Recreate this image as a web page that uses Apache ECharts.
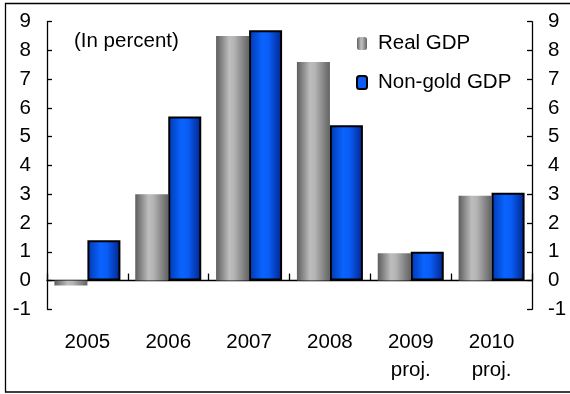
<!DOCTYPE html>
<html>
<head>
<meta charset="utf-8">
<script src="https://cdn.jsdelivr.net/npm/echarts@6/dist/echarts.min.js"></script>
<style>
  html, body { margin: 0; padding: 0; background: #fff; }
  #chart { width: 570px; height: 394px; }
</style>
</head>
<body>
<div id="chart"></div>
<script>
// Growth of real and non-gold GDP, annual percent change
const categories = ['2005', '2006', '2007', '2008', '2009\nproj.', '2010\nproj.'];
const realGDP = [-0.17, 3.0, 8.5, 7.6, 0.95, 2.95];
const nonGoldGDP = [1.4, 5.7, 8.7, 5.4, 1.0, 3.05];
const yMin = -1, yMax = 9, yStep = 1;

const FONT = 'Liberation Sans, Arial, sans-serif';
const FS = 20.5;

const grayFill = new echarts.graphic.LinearGradient(0, 0, 1, 0, [
  { offset: 0, color: '#5e5e5e' },
  { offset: 0.4, color: '#bdbdbd' },
  { offset: 0.55, color: '#b4b4b4' },
  { offset: 1, color: '#626262' }
]);
const blueFill = new echarts.graphic.LinearGradient(0, 0, 1, 0, [
  { offset: 0, color: '#0038b0' },
  { offset: 0.4, color: '#0a64ff' },
  { offset: 0.6, color: '#0a5cf5' },
  { offset: 1, color: '#00248a' }
]);

const valueAxis = (pos) => ({
  type: 'value',
  position: pos,
  min: yMin,
  max: yMax,
  interval: yStep,
  axisLine: { show: true, lineStyle: { color: '#000', width: 1.3 } },
  axisTick: { show: true, inside: true, length: 5, lineStyle: { color: '#000', width: 1.3 } },
  splitLine: { show: false },
  axisLabel: { color: '#000', fontFamily: FONT, fontSize: FS, margin: 16 }
});

const chart = echarts.init(document.getElementById('chart'), null, { renderer: 'canvas' });
chart.setOption({
  animation: false,
  backgroundColor: '#fff',
  grid: { left: 47, right: 38, top: 21.7, bottom: 84.7 },
  graphic: [{
    type: 'rect',
    shape: { x: 5.5, y: 3.5, width: 600, height: 388.5 },
    style: { fill: 'none', stroke: '#000', lineWidth: 1.3 },
    silent: true
  }, {
    type: 'text',
    left: 74, top: 31,
    style: { text: '(In percent)', font: FS + 'px ' + FONT, fill: '#000' }
  }],
  legend: {
    orient: 'vertical',
    left: 351, top: 28,
    itemWidth: 10, itemHeight: 13,
    itemGap: 18,
    textStyle: { color: '#000', fontFamily: FONT, fontSize: FS, padding: [0, 0, 0, 6] },
    data: [
      { name: 'Real GDP', itemStyle: { color: grayFill, borderWidth: 0 } },
      { name: 'Non-gold GDP', itemStyle: { color: '#0a5cf5', borderColor: '#000', borderWidth: 2 } }
    ]
  },
  xAxis: [{
    type: 'category',
    data: categories,
    axisLine: { show: true, onZero: true, lineStyle: { color: '#000', width: 1.3 } },
    axisTick: { show: true, inside: true, length: 7, lineStyle: { color: '#000', width: 1.3 } },
    axisLabel: { show: false }
  }, {
    type: 'category',
    data: categories,
    position: 'bottom',
    axisLine: { show: false, onZero: false },
    axisTick: { show: false },
    axisLabel: { color: '#000', fontFamily: FONT, fontSize: FS, lineHeight: 28, margin: 19 }
  }],
  yAxis: [valueAxis('left'), valueAxis('right')],
  series: [{
    name: 'Real GDP',
    type: 'bar',
    xAxisIndex: 0,
    data: realGDP,
    barWidth: 33,
    barGap: '0%',
    itemStyle: { color: grayFill }
  }, {
    name: 'Non-gold GDP',
    type: 'bar',
    xAxisIndex: 0,
    data: nonGoldGDP,
    barWidth: 33,
    barGap: '0%',
    itemStyle: { color: blueFill, borderColor: '#000', borderWidth: 2 }
  }]
});
</script>
</body>
</html>
